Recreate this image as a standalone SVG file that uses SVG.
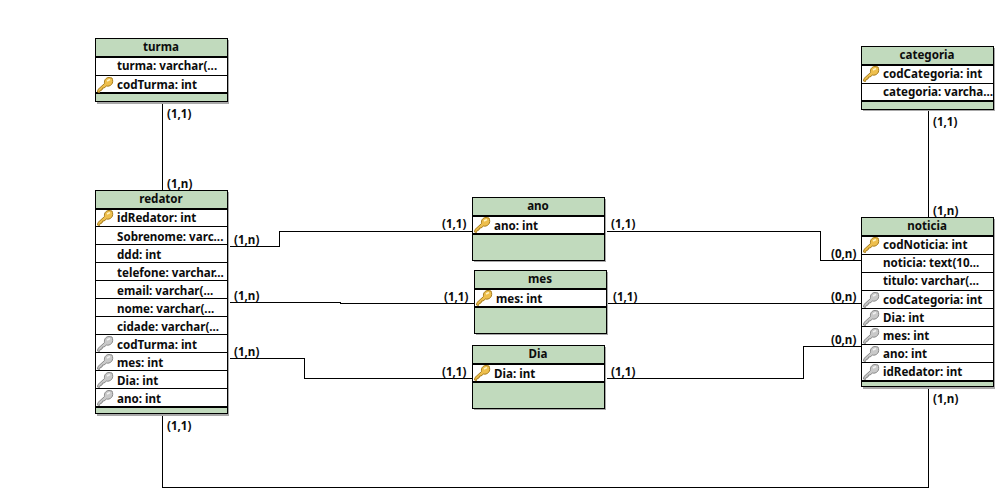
<svg xmlns="http://www.w3.org/2000/svg" width="1000" height="500" viewBox="0 0 1000 500">
<style>
text{font-family:"Noto Sans","DejaVu Sans",sans-serif;font-weight:700;font-size:11.600px;fill:#0c0c0c}
.t{text-anchor:middle}
.box{fill:#fff;stroke:#000;stroke-width:1}
.sh{fill:#a8a8a8}
.hd{fill:#c1dabd}
.l{stroke:#000;stroke-width:1;fill:none;shape-rendering:crispEdges}
.th{stroke:#000;stroke-width:2;fill:none;shape-rendering:crispEdges}
.c{stroke:#000;stroke-width:1;fill:none;shape-rendering:crispEdges}
</style>
<defs>
<g id="k"><path d="M0.500 15 L1 12.500 L7.500 6.500 C7 3 9 0.500 12 0.500 L15 1 C16 3 16 6 14.500 7.500 C13 9 11 9.500 9.500 9 L7 11 L5.500 11 L5 13 L3 13.500 L2.500 15.500Z" fill="#eebf4d" stroke="#a87d1c" stroke-width="1"/><path d="M10 4 L13 2.500" stroke="#fff3c4" stroke-width="1.500" fill="none"/></g>
<g id="f"><path d="M0.500 15 L1 12.500 L7.500 6.500 C7 3 9 0.500 12 0.500 L15 1 C16 3 16 6 14.500 7.500 C13 9 11 9.500 9.500 9 L7 11 L5.500 11 L5 13 L3 13.500 L2.500 15.500Z" fill="#c9c9c9" stroke="#8a8a8a" stroke-width="1"/><path d="M10 4 L13 2.500" stroke="#f2f2f2" stroke-width="1.500" fill="none"/></g>
</defs>
<g id="connectors">
<path class="c" d="M162.500 104V190"/>
<path class="c" d="M928.500 111V217"/>
<path class="c" d="M928.500 389V487.500H162.500V416"/>
<path class="c" d="M230 246.500H279.500V231.500H472"/>
<path class="c" d="M607 231.500H820.500V260.500H861"/>
<path class="c" d="M230 302.500H340V303.500H474"/>
<path class="c" d="M608 303.500H861"/>
<path class="c" d="M230 358.500H304.500V378.500H472"/>
<path class="c" d="M607 378.500H803.500V346.500H861"/>
</g>
<g id="labels">
<text x="167" y="118">(1,1)</text><text x="167" y="188">(1,n)</text><text x="167" y="430">(1,1)</text>
<text x="234" y="244">(1,n)</text><text x="234" y="300">(1,n)</text><text x="234" y="356">(1,n)</text>
<text x="442" y="228">(1,1)</text><text x="444" y="301">(1,1)</text><text x="442" y="376">(1,1)</text>
<text x="611" y="228">(1,1)</text><text x="613" y="301">(1,1)</text><text x="611" y="376">(1,1)</text>
<text x="831" y="258">(0,n)</text><text x="831" y="301">(0,n)</text><text x="831" y="344">(0,n)</text>
<text x="933" y="126">(1,1)</text><text x="933" y="215">(1,n)</text><text x="933" y="403">(1,n)</text>
</g>
<g id="turma">
<rect class="sh" x="97" y="40" width="132" height="64"/>
<rect class="box hd" x="95.500" y="38.500" width="132" height="63"/>
<rect class="box" x="95.500" y="56.500" width="132" height="37"/>
<path class="th" d="M95 57H228M95 93H228"/><path class="l" d="M96 75.500H227"/>
<text class="t" x="161" y="51">turma</text>
<text x="117" y="70">turma: varchar(...</text>
<use href="#k" x="97" y="77"/><text x="117" y="89">codTurma: int</text>
</g>
<g id="categoria">
<rect class="sh" x="863" y="48" width="132" height="63"/>
<rect class="box hd" x="861.500" y="46.500" width="132" height="63"/>
<rect class="box" x="861.500" y="64.500" width="132" height="37"/>
<path class="th" d="M861 65H994M861 101H994"/><path class="l" d="M862 83.500H993"/>
<text class="t" x="927" y="59">categoria</text>
<use href="#k" x="863" y="66"/><text x="883" y="78">codCategoria: int</text>
<text x="883" y="96">categoria: varcha...</text>
</g>
<g id="redator">
<rect class="sh" x="97" y="192" width="132" height="224"/>
<rect class="box hd" x="95.500" y="190.500" width="132" height="223"/>
<rect class="box" x="95.500" y="208.500" width="132" height="198"/>
<path class="th" d="M95 209H228M95 407H228"/>
<path class="l" d="M96 226.500H227M96 244.500H227M96 262.500H227M96 280.500H227M96 298.500H227M96 316.500H227M96 334.500H227M96 352.500H227M96 370.500H227M96 388.500H227"/>
<text class="t" x="161" y="203">redator</text>
<use href="#k" x="97" y="210"/><text x="117" y="222">idRedator: int</text>
<text x="117" y="241">Sobrenome: varc...</text>
<text x="117" y="259">ddd: int</text>
<text x="117" y="277">telefone: varchar...</text>
<text x="117" y="295">email: varchar(...</text>
<text x="117" y="313">nome: varchar(...</text>
<text x="117" y="331">cidade: varchar(...</text>
<use href="#f" x="97" y="336"/><text x="117" y="349">codTurma: int</text>
<use href="#f" x="97" y="354"/><text x="117" y="367">mes: int</text>
<use href="#f" x="97" y="372"/><text x="117" y="385">Dia: int</text>
<use href="#f" x="97" y="390"/><text x="117" y="403">ano: int</text>
</g>
<g id="ano">
<rect class="sh" x="474" y="199" width="132" height="63"/>
<rect class="box hd" x="472.500" y="197.500" width="132" height="63"/>
<rect class="box" x="472.500" y="215.500" width="132" height="18"/>
<path class="th" d="M472 216H605M472 234H605"/>
<text class="t" x="538" y="210">ano</text>
<use href="#k" x="474" y="217"/><text x="494" y="230">ano: int</text>
</g>
<g id="mes">
<rect class="sh" x="476" y="272" width="132" height="63"/>
<rect class="box hd" x="474.500" y="270.500" width="132" height="63"/>
<rect class="box" x="474.500" y="288.500" width="132" height="18"/>
<path class="th" d="M474 289H607M474 307H607"/>
<text class="t" x="540" y="283">mes</text>
<use href="#k" x="476" y="290"/><text x="496" y="303">mes: int</text>
</g>
<g id="Dia">
<rect class="sh" x="474" y="347" width="132" height="63"/>
<rect class="box hd" x="472.500" y="345.500" width="132" height="63"/>
<rect class="box" x="472.500" y="363.500" width="132" height="19"/>
<path class="th" d="M472 364H605M472 382H605"/>
<text class="t" x="538" y="358">Dia</text>
<use href="#k" x="474" y="365"/><text x="494" y="378">Dia: int</text>
</g>
<g id="noticia">
<rect class="sh" x="863" y="219" width="132" height="170"/>
<rect class="box hd" x="861.500" y="217.500" width="132" height="169"/>
<rect class="box" x="861.500" y="235.500" width="132" height="145"/>
<path class="th" d="M861 236H994M861 381H994"/>
<path class="l" d="M862 254.500H993M862 272.500H993M862 290.500H993M862 308.500H993M862 326.500H993M862 344.500H993M862 362.500H993"/>
<text class="t" x="927" y="230">noticia</text>
<use href="#k" x="863" y="237"/><text x="883" y="249">codNoticia: int</text>
<text x="883" y="267">noticia: text(10...</text>
<text x="883" y="285">titulo: varchar(...</text>
<use href="#f" x="863" y="292"/><text x="883" y="304">codCategoria: int</text>
<use href="#f" x="863" y="310"/><text x="883" y="322">Dia: int</text>
<use href="#f" x="863" y="328"/><text x="883" y="340">mes: int</text>
<use href="#f" x="863" y="346"/><text x="883" y="358">ano: int</text>
<use href="#f" x="863" y="364"/><text x="883" y="376">idRedator: int</text>
</g>
</svg>
